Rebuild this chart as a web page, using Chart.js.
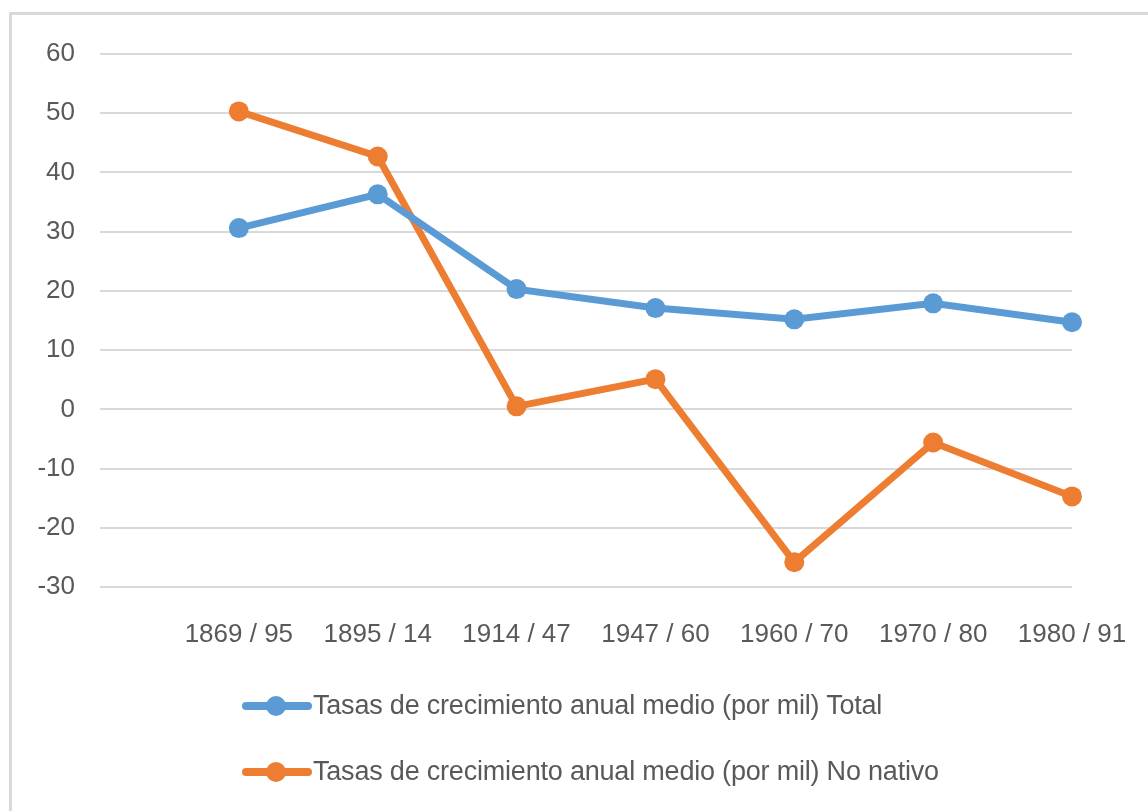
<!DOCTYPE html>
<html>
<head>
<meta charset="utf-8">
<script src="https://cdn.jsdelivr.net/npm/chart.js@4.4.1/dist/chart.umd.min.js"></script>
<style>
  html, body { margin: 0; padding: 0; background: #fff; }
  body { width: 1148px; height: 811px; position: relative; overflow: hidden; font-family: "Liberation Sans", Arial, sans-serif; }
  #frame { position: absolute; left: 9px; top: 12px; width: 1160px; height: 820px; border-left: 3px solid #d9d9d9; border-top: 3px solid #d9d9d9; box-sizing: border-box; }
  #wrap { position: absolute; left: 0; top: 0; width: 1148px; height: 811px; }
  .legend { position: absolute; left: 242px; color: #595959; font-size: 27px; display: flex; align-items: center; letter-spacing: -0.2px; }
  .legend .mark { position: relative; width: 70px; height: 22px; margin-right: 1px; }
  .legend .mark::before { content: ""; position: absolute; left: 0; right: 0; top: 7px; height: 8px; border-radius: 4px; background: var(--c); }
  .legend .mark::after { content: ""; position: absolute; left: 24px; top: 1px; width: 20px; height: 20px; border-radius: 50%; background: var(--c); }
</style>
</head>
<body>
<div id="frame"></div>
<div id="wrap"><canvas id="chart" width="1148" height="811"></canvas></div>
<div class="legend" style="top:690px"><span class="mark" style="--c:#5b9bd5"></span><span id="lt1"></span></div>
<div class="legend" style="top:756px"><span class="mark" style="--c:#ed7d31"></span><span id="lt2"></span></div>
<script>
// periodos (el primero vacio, como en el grafico original)
const periodos = ['', '1869 / 95', '1895 / 14', '1914 / 47', '1947 / 60', '1960 / 70', '1970 / 80', '1980 / 91'];
const tasaTotal = [null, 30.6, 36.3, 20.3, 17.1, 15.2, 17.9, 14.7];
const tasaNoNativo = [null, 50.3, 42.7, 0.5, 5.1, -25.8, -5.6, -14.7];
const nombreTotal = 'Tasas de crecimiento anual medio (por mil) Total';
const nombreNoNativo = 'Tasas de crecimiento anual medio (por mil) No nativo';

const AZUL = '#5b9bd5';
const NARANJA = '#ed7d31';
const GRIS_TEXTO = '#595959';
const FUENTE = { family: '"Liberation Sans", Arial, sans-serif', size: 26 };

document.getElementById('lt1').textContent = nombreTotal;
document.getElementById('lt2').textContent = nombreNoNativo;

function serie(label, data, color) {
  return {
    label,
    data,
    borderColor: color,
    backgroundColor: color,
    borderWidth: 7,
    pointRadius: 10,
    pointHoverRadius: 10,
    pointBorderWidth: 0,
    tension: 0,
    spanGaps: false
  };
}

new Chart(document.getElementById('chart'), {
  type: 'line',
  data: {
    labels: periodos,
    datasets: [
      serie(nombreTotal, tasaTotal, AZUL),
      serie(nombreNoNativo, tasaNoNativo, NARANJA)
    ]
  },
  options: {
    responsive: false,
    animation: false,
    layout: { padding: { top: 54, left: 0, right: 76, bottom: 0 } },
    plugins: {
      legend: { display: false },
      tooltip: { enabled: false }
    },
    scales: {
      x: {
        offset: false,
        grid: { display: false, drawTicks: false },
        border: { display: false },
        ticks: { color: GRIS_TEXTO, font: FUENTE, padding: 32, maxRotation: 0, autoSkip: false },
        afterFit: (s) => { s.height = 224; s.paddingLeft = 0; s.paddingRight = 0; }
      },
      y: {
        min: -30,
        max: 60,
        ticks: { stepSize: 10, color: GRIS_TEXTO, font: FUENTE, padding: 25 },
        grid: { color: '#d9d9d9', lineWidth: 2, drawTicks: false },
        border: { display: false },
        afterFit: (s) => { s.width = 100; s.paddingTop = 0; s.paddingBottom = 0; }
      }
    }
  }
});
</script>
</body>
</html>
